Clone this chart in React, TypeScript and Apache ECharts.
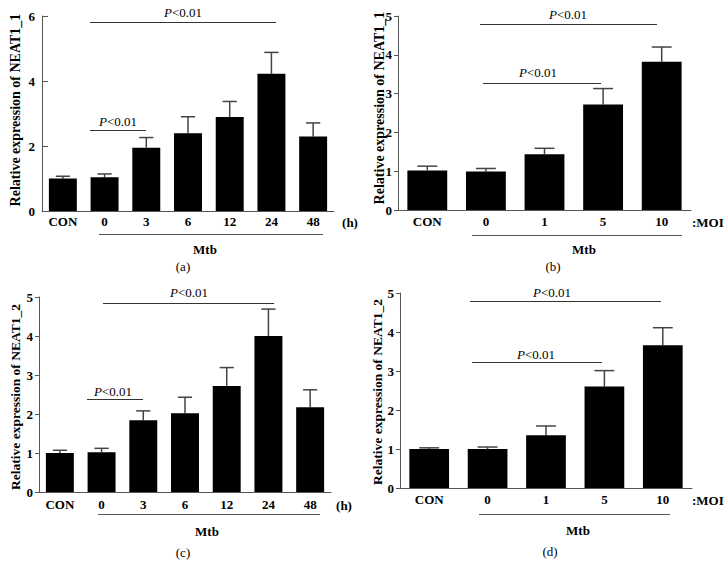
import React, { useEffect, useRef } from "react";
import * as echarts from "echarts";

const FONT = "'Liberation Serif', 'Times New Roman', serif";

const catsTime = ["CON", "0", "3", "6", "12", "24", "48"];
const catsMoi = ["CON", "0", "1", "5", "10"];

const meanA = [1.0, 1.04, 1.95, 2.39, 2.89, 4.22, 2.29];
const sdA = [0.07, 0.1, 0.31, 0.51, 0.48, 0.66, 0.42];
const meanB = [1.02, 0.99, 1.44, 2.72, 3.82];
const sdB = [0.11, 0.08, 0.15, 0.41, 0.38];
const meanC = [1.0, 1.02, 1.84, 2.02, 2.72, 4.0, 2.17];
const sdC = [0.07, 0.1, 0.24, 0.41, 0.47, 0.69, 0.45];
const meanD = [1.0, 1.0, 1.35, 2.6, 3.66];
const sdD = [0.03, 0.05, 0.24, 0.41, 0.45];

const yTitles = [
  "Relative expression of NEAT1_1",
  "Relative expression of NEAT1_1",
  "Relative expression of NEAT1_2",
  "Relative expression of NEAT1_2",
];
const yMax = [6, 5, 5, 5];
const yInterval = [2, 1, 1, 1];

const panels = [
  { cats: catsTime, mean: meanA, sd: sdA, grid: { left: 42, top: 16, width: 292, height: 195 }, barW: "67%", tickInside: true, labMargin: 4 },
  { cats: catsMoi, mean: meanB, sd: sdB, grid: { left: 398, top: 16, width: 293, height: 194 }, barW: "68%", tickInside: false, labMargin: 5 },
  { cats: catsTime, mean: meanC, sd: sdC, grid: { left: 39, top: 297, width: 292, height: 195 }, barW: "67%", tickInside: false, labMargin: 6 },
  { cats: catsMoi, mean: meanD, sd: sdD, grid: { left: 400, top: 293, width: 292, height: 195 }, barW: "68%", tickInside: false, labMargin: 5 },
];

function line(x1: number, y1: number, x2: number, y2: number, color = "#333") {
  return { type: "line", shape: { x1, y1, x2, y2 }, style: { stroke: color, lineWidth: 1 }, silent: true };
}
function txt(text: string, x: number, y: number, opts: any = {}) {
  return {
    type: "text",
    x,
    y,
    rotation: opts.rotation || 0,
    style: {
      text,
      fontFamily: FONT,
      fontSize: opts.fontSize || 13,
      fontWeight: opts.bold ? "bold" : "normal",
      fill: "#000",
      align: opts.align || "center",
      verticalAlign: "middle",
      rich: opts.rich,
    },
  };
}
const pRich = {
  i: { fontStyle: "italic", fontFamily: FONT, fontSize: 13 },
  n: { fontFamily: FONT, fontSize: 13 },
};
function pText(x: number, y: number) {
  return txt("{i|P}{n|<0.01}", x, y, { rich: pRich });
}

export default function App() {
  const ref = useRef<HTMLDivElement>(null);
  useEffect(() => {
    if (!ref.current) return;
    const chart = echarts.init(ref.current, undefined, { renderer: "svg" });

    const grid = panels.map((p) => ({ ...p.grid, containLabel: false }));
    const xAxis = panels.map((p, i) => ({
      type: "category",
      gridIndex: i,
      data: p.cats,
      axisLine: { lineStyle: { color: "#555", width: 1 } },
      axisTick: { show: false },
      axisLabel: { interval: 0, fontFamily: FONT, fontWeight: "bold", fontSize: 13, color: "#000", margin: p.labMargin },
    }));
    const yAxis = panels.map((p, i) => ({
      type: "value",
      gridIndex: i,
      min: 0,
      max: yMax[i],
      interval: yInterval[i],
      axisLine: { show: true, lineStyle: { color: "#555", width: 1 } },
      axisTick: { show: true, inside: p.tickInside, length: p.tickInside ? 6 : 4, lineStyle: { color: "#555" } },
      splitLine: { show: false },
      axisLabel: { fontFamily: FONT, fontWeight: "bold", fontSize: 13, color: "#000", margin: p.tickInside ? 7 : 6 },
    }));
    const series: any[] = [];
    panels.forEach((p, i) => {
      series.push({
        type: "bar",
        xAxisIndex: i,
        yAxisIndex: i,
        data: p.mean,
        barWidth: p.barW,
        itemStyle: { color: "#000" },
      });
      series.push({
        type: "custom",
        xAxisIndex: i,
        yAxisIndex: i,
        data: p.mean.map((m, j) => [j, m, +(m + p.sd[j]).toFixed(3)]),
        encode: { x: 0, y: [1, 2] },
        renderItem: (params: any, api: any) => {
          const x = api.value(0);
          const top = api.coord([x, api.value(1)]);
          const err = api.coord([x, api.value(2)]);
          const hw = api.size([1, 0])[0] * 0.17;
          const st = { stroke: "#444", lineWidth: 1.5 };
          return {
            type: "group",
            children: [
              { type: "line", shape: { x1: top[0], y1: top[1], x2: err[0], y2: err[1] }, style: st },
              { type: "line", shape: { x1: err[0] - hw, y1: err[1], x2: err[0] + hw, y2: err[1] }, style: st },
            ],
          };
        },
      });
    });

    const graphic: any[] = [
      // y titles
      txt(yTitles[0], 15, 110, { rotation: Math.PI / 2, bold: true, fontSize: 14 }),
      txt(yTitles[1], 379, 108, { rotation: Math.PI / 2, bold: true, fontSize: 14 }),
      txt(yTitles[2], 15, 397, { rotation: Math.PI / 2, bold: true, fontSize: 13.5 }),
      txt(yTitles[3], 377, 392, { rotation: Math.PI / 2, bold: true, fontSize: 13.5 }),
      // panel a
      line(90, 22.5, 276, 22.5), pText(183, 12),
      line(90, 130.5, 146, 130.5), pText(118, 121),
      txt("(h)", 350, 222, { bold: true }),
      line(99, 234.5, 323, 234.5, "#555"),
      txt("Mtb", 205, 249, { bold: true }),
      txt("(a)", 183, 266),
      // panel b
      line(480, 24.5, 657, 24.5), pText(568, 14),
      line(483, 83.5, 601, 83.5), pText(538, 72),
      txt(":MOI", 692, 222, { bold: true, align: "left" }),
      line(472, 235.5, 682, 235.5, "#555"),
      txt("Mtb", 584, 249, { bold: true }),
      txt("(b)", 553, 266),
      // panel c
      line(103, 303.5, 274, 303.5), pText(189, 292),
      line(87, 399.5, 143, 399.5), pText(113, 391),
      txt("(h)", 344, 505, { bold: true }),
      line(98, 514.5, 320, 514.5, "#555"),
      txt("Mtb", 207, 531, { bold: true }),
      txt("(c)", 183, 552),
      // panel d
      line(470, 301.5, 661, 301.5), pText(552, 292),
      line(472, 362.5, 602, 362.5), pText(536, 354),
      txt(":MOI", 692, 500, { bold: true, align: "left" }),
      line(479, 514.5, 670, 514.5, "#555"),
      txt("Mtb", 578, 530, { bold: true }),
      txt("(d)", 550, 551),
    ];

    chart.setOption({
      animation: false,
      backgroundColor: "#fff",
      grid,
      xAxis,
      yAxis,
      series,
      graphic,
    });
    return () => chart.dispose();
  }, []);
  return (
    <div
      ref={ref}
      style={{ position: "absolute", left: 0, top: 0, width: 728, height: 577 }}
    />
  );
}
